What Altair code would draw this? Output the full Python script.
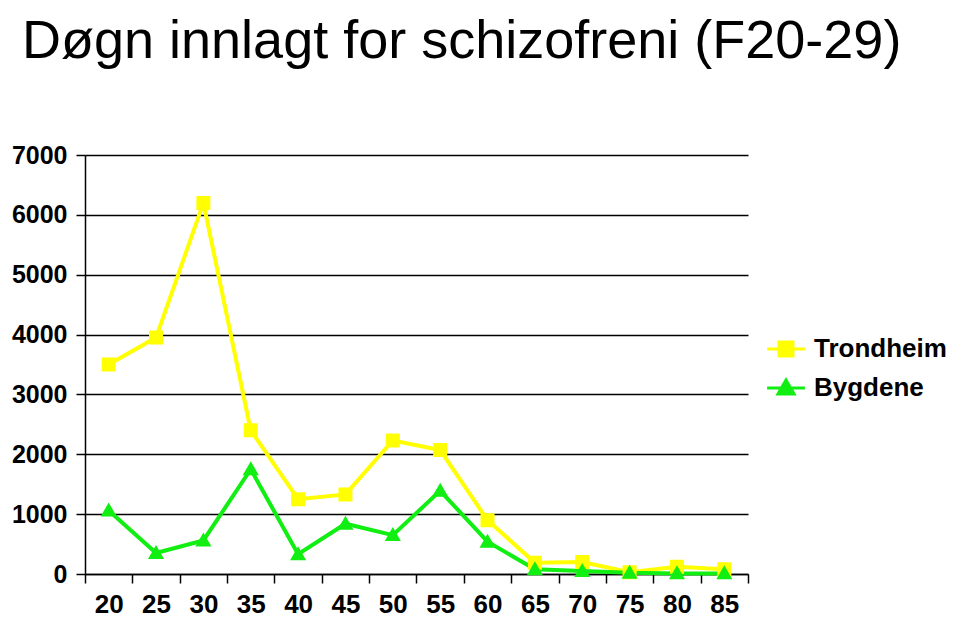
import altair as alt
import pandas as pd

ages = [20, 25, 30, 35, 40, 45, 50, 55, 60, 65, 70, 75, 80, 85]
trondheim = [3500, 3950, 6200, 2400, 1250, 1330, 2230, 2070, 900, 190, 200, 30, 120, 80]
bygdene = [1060, 350, 560, 1750, 330, 840, 650, 1390, 540, 80, 50, 20, 10, 10]
series = ["Trondheim", "Bygdene"]
colors = ["#FFFF00", "#11EE11"]
# legend symbols: a short line through the marker
shape_paths = ["M-2.7,0H2.7M-1,-1H1V1H-1Z", "M-2.7,0H2.7M0,-1.15L1.15,0.85H-1.15Z"]
y_ticks = [0, 1000, 2000, 3000, 4000, 5000, 6000, 7000]
title_text = "Døgn innlagt for schizofreni (F20-29)"

df = pd.DataFrame({
    "age": ages + ages,
    "value": trondheim + bygdene,
    "series": [series[0]] * len(ages) + [series[1]] * len(ages),
})

x_enc = alt.X(
    "age:O",
    sort=ages,
    scale=alt.Scale(type="band", paddingInner=0, paddingOuter=0),
    bandPosition=0.5,
    axis=alt.Axis(title=None, labelAngle=0, tickBand="extent", tickSize=9,
                  labelPadding=8, grid=False, labelFontSize=26),
)
y_enc = alt.Y(
    "value:Q",
    scale=alt.Scale(domain=[0, 7000], nice=False),
    axis=alt.Axis(title=None, values=y_ticks, tickSize=9, labelPadding=9,
                  grid=True, format="d", labelFontSize=25),
)

leg = alt.Legend(
    title=None, orient="none", legendX=688, legendY=181,
    symbolSize=196, symbolStrokeWidth=3, labelOffset=15, rowPadding=11,
    labelFontSize=26, labelFont="Liberation Sans", labelFontWeight="bold",
    labelColor="black", padding=0, symbolOpacity=1,
)

line_layers = [
    alt.Chart(df).transform_filter(alt.datum.series == s).mark_line(
        strokeWidth=4, color=c
    ).encode(x=x_enc, y=y_enc)
    for s, c in zip(series, colors)
]

points = alt.Chart(df).mark_point(filled=True, size=196, strokeWidth=0, opacity=1).encode(
    x=x_enc, y=y_enc,
    fill=alt.Fill("series:N", scale=alt.Scale(domain=series, range=colors), legend=leg),
    stroke=alt.Stroke("series:N", scale=alt.Scale(domain=series, range=colors), legend=leg),
    shape=alt.Shape("series:N", scale=alt.Scale(domain=series, range=shape_paths), legend=leg),
)

chart = alt.layer(*line_layers, points).properties(
    width=663, height=419,
    background="white",
    autosize=alt.AutoSizeParams(type="none"),
    padding={"left": 77, "top": 147, "right": 204, "bottom": 46},
    title=alt.Title(
        title_text, anchor="start", frame="group", dx=-63, offset=31,
        fontSize=54, font="Liberation Sans", fontWeight="normal", color="black",
        baseline="alphabetic",
    ),
).configure_view(stroke=None).configure_axis(
    domainColor="black", domainWidth=1.5, tickColor="black", tickWidth=1.5,
    gridColor="black", gridWidth=1.5, gridOpacity=1,
    labelFont="Liberation Sans", labelFontWeight="bold",
    labelColor="black",
)

chart.save("out.html", embed_options={"renderer": "svg", "actions": False})
